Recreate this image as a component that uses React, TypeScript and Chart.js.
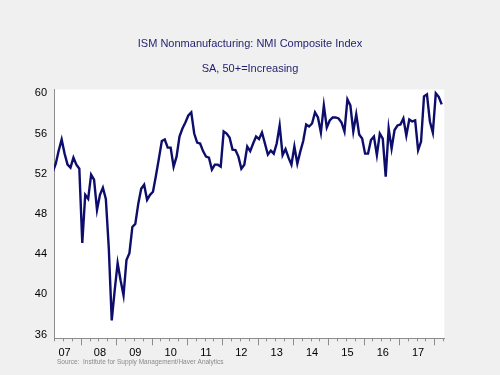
import React, { useEffect, useRef } from 'react';
import { Chart, registerables } from 'chart.js';

Chart.register(...registerables);

// months counted from Jan 2007 (= 0); first observation is Mar 2007
const START_INDEX = 2;

const nmi2007 = [52.2, 53.0, 54.3, 55.4, 54.0, 52.9, 52.6, 53.6, 52.9, 52.5];
const nmi2008 = [45.1, 49.9, 49.5, 51.9, 51.4, 48.4, 49.9, 50.6, 49.5, 44.6, 37.4, 40.4];
const nmi2009 = [43.1, 41.4, 39.9, 43.4, 44.1, 46.7, 47.0, 49.0, 50.5, 50.9, 49.4, 49.9];
const nmi2010 = [50.2, 51.8, 53.5, 55.25, 55.4, 54.6, 54.6, 52.7, 53.7, 55.7, 56.5, 57.1];
const nmi2011 = [57.8, 58.1, 56.0, 55.1, 55.0, 54.25, 53.7, 53.6, 52.4, 52.9, 52.9, 52.7];
const nmi2012 = [56.2, 56.0, 55.6, 54.4, 54.35, 53.7, 52.5, 52.9, 54.7, 54.25, 55.0, 55.7];
const nmi2013 = [55.45, 56.1, 55.0, 53.9, 54.3, 54.0, 55.0, 56.8, 53.85, 54.45, 53.6, 52.9];
const nmi2014 = [54.7, 53.0, 54.2, 55.25, 56.9, 56.7, 57.0, 58.1, 57.6, 56.1, 58.8, 56.6];
const nmi2015 = [57.3, 57.6, 57.6, 57.5, 57.1, 56.2, 59.4, 58.8, 56.2, 57.9, 55.9, 55.5];
const nmi2016 = [54.0, 54.0, 55.35, 55.7, 53.85, 56.0, 55.5, 51.7, 56.5, 54.5, 56.35, 56.8];
const nmi2017 = [56.9, 57.5, 55.8, 57.4, 57.2, 57.3, 54.35, 55.2, 59.7, 59.9, 57.2, 56.1];
const nmi2018 = [60.0, 59.65, 58.9];

const yearLabels = ['07', '08', '09', '10', '11', '12', '13', '14', '15', '16', '17'];
const yTickValues = [36, 40, 44, 48, 52, 56, 60];

const TITLE = 'ISM Nonmanufacturing: NMI Composite Index';
const SUBTITLE = 'SA, 50+=Increasing';
const SOURCE = 'Source:  Institute for Supply Management/Haver Analytics';

const FONT = "'Liberation Sans', Arial, Helvetica, sans-serif";

export default function App() {
  const ref = useRef<HTMLCanvasElement | null>(null);

  useEffect(() => {
    if (!ref.current) return;
    const values = [
      ...nmi2007, ...nmi2008, ...nmi2009, ...nmi2010, ...nmi2011, ...nmi2012,
      ...nmi2013, ...nmi2014, ...nmi2015, ...nmi2016, ...nmi2017, ...nmi2018,
    ];
    const points = values.map((v, i) => ({ x: START_INDEX + i + 0.5, y: v }));

    const bgPlugin = {
      id: 'bgPlugin',
      beforeDraw(chart: any) {
        const { ctx, chartArea, width, height } = chart;
        ctx.save();
        ctx.fillStyle = '#f0f0f0';
        ctx.fillRect(0, 0, width, height);
        ctx.fillStyle = '#ffffff';
        ctx.fillRect(chartArea.left, chartArea.top, chartArea.right - chartArea.left, chartArea.bottom - chartArea.top);
        ctx.restore();
      },
    };

    const tickPlugin = {
      id: 'tickPlugin',
      afterDraw(chart: any) {
        const { ctx, chartArea } = chart;
        const xs = chart.scales.x;
        ctx.save();
        ctx.strokeStyle = '#8c8c8c';
        ctx.lineWidth = 1;
        for (let v = 3; v <= 135; v += 3) {
          const px = Math.round(xs.getPixelForValue(v)) + 0.5;
          const len = v % 12 === 0 ? 7 : 3;
          ctx.beginPath();
          ctx.moveTo(px, chartArea.bottom);
          ctx.lineTo(px, chartArea.bottom + len);
          ctx.stroke();
        }
        ctx.font = `6.5px ${FONT}`;
        ctx.fillStyle = '#8a8a8a';
        ctx.textBaseline = 'middle';
        ctx.textAlign = 'left';
        ctx.fillText(SOURCE, chartArea.left + 3, 362);
        ctx.restore();
      },
    };

    const chart = new Chart(ref.current, {
      type: 'line',
      data: {
        datasets: [
          {
            data: points,
            borderColor: '#0d0d6b',
            borderWidth: 2.4,
            pointRadius: 0,
            fill: false,
            tension: 0,
          },
        ],
      },
      options: {
        responsive: false,
        animation: false,
        layout: { padding: { left: 0, right: 0, top: 0, bottom: 0 } },
        plugins: {
          legend: { display: false },
          tooltip: { enabled: false },
          title: {
            display: true,
            text: TITLE,
            color: '#1f1f6e',
            font: { family: FONT, size: 11, weight: 'normal', lineHeight: 1.2 },
            padding: { top: 37.4, bottom: 0 },
          },
          subtitle: {
            display: true,
            text: SUBTITLE,
            color: '#1f1f6e',
            font: { family: FONT, size: 11, weight: 'normal', lineHeight: 1.2 },
            padding: { top: 11.8, bottom: 13.9 },
          },
        },
        scales: {
          x: {
            type: 'linear',
            min: 2.9,
            max: 135.39,
            grid: { display: false, drawTicks: false },
            border: { display: true, color: '#8c8c8c', width: 1 },
            afterBuildTicks: (scale: any) => {
              scale.ticks = yearLabels.map((_, k) => ({ value: 12 * k + 6.5 }));
            },
            afterFit: (scale: any) => {
              scale.height = 36.7;
            },
            ticks: {
              autoSkip: false,
              maxRotation: 0,
              minRotation: 0,
              padding: 8,
              color: '#000000',
              font: { family: FONT, size: 11 },
              callback: (_v: any, i: number) => yearLabels[i],
            },
          },
          y: {
            type: 'linear',
            position: 'left',
            min: 35.62,
            max: 60.38,
            grid: { display: false, drawTicks: false },
            border: { display: true, color: '#8c8c8c', width: 1 },
            afterBuildTicks: (scale: any) => {
              scale.ticks = yTickValues.map((v) => ({ value: v }));
            },
            afterFit: (scale: any) => {
              scale.width = 54;
            },
            ticks: {
              padding: 7,
              color: '#000000',
              font: { family: FONT, size: 11 },
              callback: (v: any) => String(v),
            },
          },
          spacer: {
            type: 'linear',
            position: 'right',
            display: true,
            grid: { display: false, drawTicks: false },
            border: { display: false },
            ticks: { display: false },
            afterFit: (scale: any) => {
              scale.width = 55.7;
            },
          },
        },
      },
      plugins: [bgPlugin, tickPlugin],
    } as any);

    return () => chart.destroy();
  }, []);

  return (
    <div style={{ position: 'fixed', left: 0, top: 0, width: 500, height: 375, background: '#f0f0f0' }}>
      <canvas ref={ref} width={500} height={375} style={{ display: 'block', width: 500, height: 375 }} />
    </div>
  );
}
